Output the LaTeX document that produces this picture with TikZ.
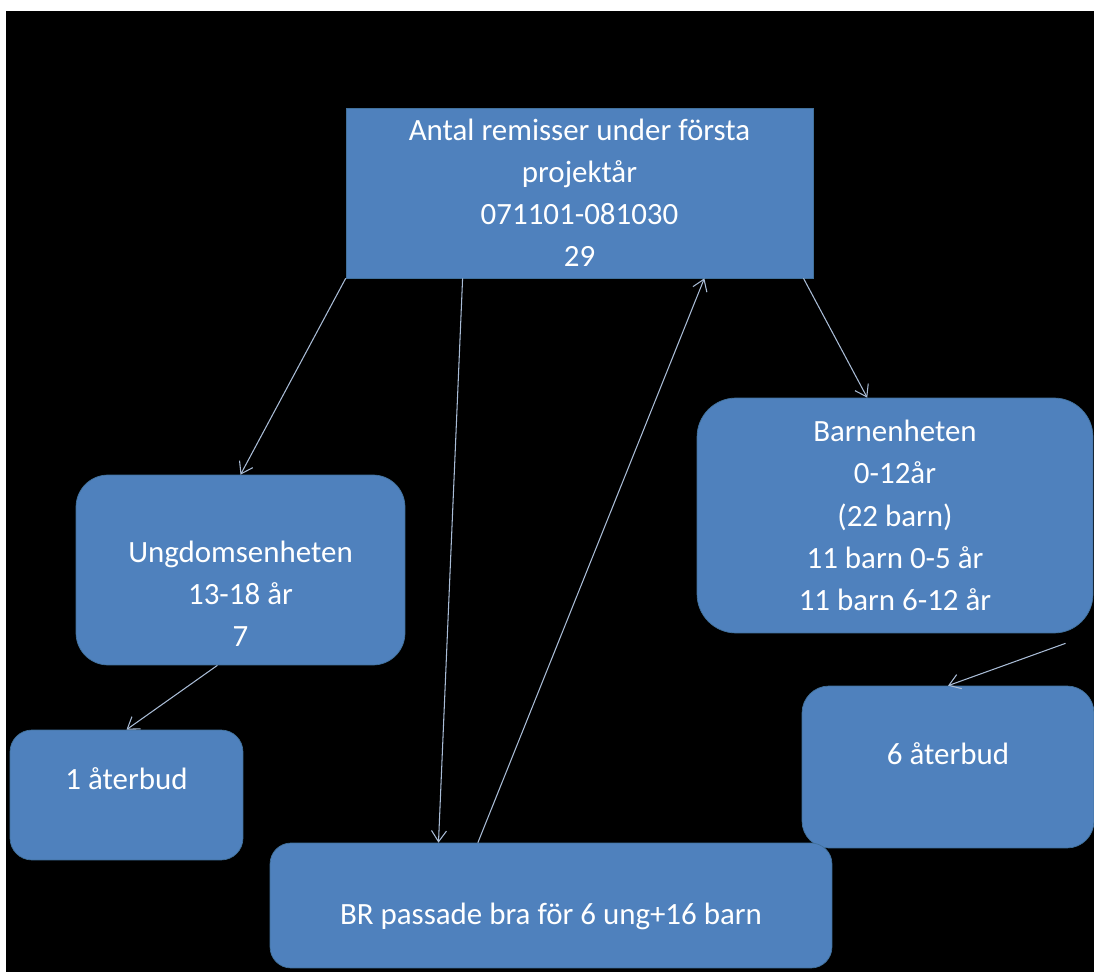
\documentclass[tikz,border=0pt]{standalone}
\usepackage{fontspec}
\setmainfont{Carlito}
\usepackage{tikz}
\usetikzlibrary{arrows.meta,calc}
\definecolor{boxblue}{HTML}{4F81BD}
\definecolor{boxedge}{HTML}{41719C}
\definecolor{linkgray}{HTML}{A9BCD6}
\tikzstyle{txt}=[text=white,align=center,font=\fontsize{17.6}{24}\selectfont]
\tikzstyle{unit}=[rectangle,txt,fill=boxblue,draw=boxedge,thin]
\tikzstyle{head}=[unit,rounded corners=0pt]
\tikzstyle{link}=[color=linkgray,line width=0.6pt]
\begin{document}
\begin{tikzpicture}[x=0.02cm,y=-0.02cm,>={Straight Barb[length=2.2mm,width=3mm]}]
    % Page: white margin, black slide
    \fill[white] (0,0) rectangle (1094,972);
    \fill[black] (6,11) rectangle (1094,972);
    \useasboundingbox (0,0) rectangle (1094,972);
    % Top box: all referrals
    \node (top) [head,minimum width=9.34cm,minimum height=3.4cm] at (579.5,193)
      {Antal remisser under första\\projektår\\071101-081030\\29};
    % Second line: the two units
    \node (ung) [unit,rounded corners=0.64cm,minimum width=6.58cm,minimum height=3.8cm,
      label={[txt,yshift=-0.48cm]center:Ungdomsenheten\\13-18 år\\7}] at (240.5,570) {};
    \node (barn) [unit,rounded corners=0.78cm,minimum width=7.92cm,minimum height=4.7cm] at (895,515.5)
      {Barnenheten\\0-12år\\(22 barn)\\11 barn 0-5 år\\11 barn 6-12 år};
    % Third line: cancellations
    \node (ater1) [unit,rounded corners=0.44cm,minimum width=4.66cm,minimum height=2.6cm,
      label={[txt,yshift=0.32cm]center:1 återbud}] at (126.5,795) {};
    \node (ater6) [unit,rounded corners=0.54cm,minimum width=5.84cm,minimum height=3.24cm,
      label={[txt,yshift=0.26cm]center:6 återbud}] at (948,767) {};
    % Bottom box
    \node (br) [unit,rounded corners=0.42cm,minimum width=11.24cm,minimum height=2.5cm,
      label={[txt,yshift=-0.22cm]center:BR passade bra för 6 ung+16 barn}] at (551,905.5) {};
    % free end of the cancellation connector, just below the unit box
    \coordinate (barnout) at ([yshift=-0.2cm]$(barn.south west)!0.93!(barn.south east)$);
    % Connectors
    \path[link,->]
    (top.south west) edge (ung.north)
    ($(top.south west)!0.25!(top.south east)$) edge ($(br.north west)!0.30!(br.north east)$)
    ($(br.north west)!0.37!(br.north east)$) edge ($(top.south west)!0.767!(top.south east)$)
    ($(top.south west)!0.979!(top.south east)$) edge ($(barn.north west)!0.43!(barn.north east)$)
    ($(ung.south west)!0.43!(ung.south east)$) edge (ater1.north)
    (barnout) edge (ater6.north)
    ;
\end{tikzpicture}
\end{document}
